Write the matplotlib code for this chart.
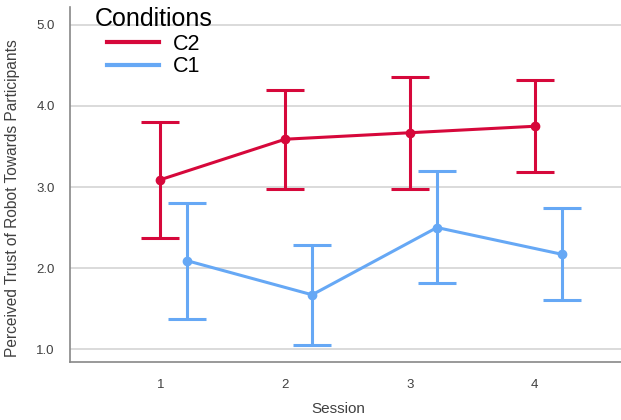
import numpy as np
import matplotlib
matplotlib.use("Agg")
import matplotlib.pyplot as plt
from matplotlib.lines import Line2D

plt.rcParams['font.family'] = ['Liberation Sans', 'DejaVu Sans']

sessions = [1, 2, 3, 4]
c2_mean = [3.09, 3.59, 3.67, 3.75]
c2_upper = [3.80, 4.20, 4.36, 4.32]
c2_lower = [2.37, 2.97, 2.97, 3.19]
c1_mean = [2.09, 1.67, 2.50, 2.17]
c1_upper = [2.80, 2.29, 3.20, 2.74]
c1_lower = [1.37, 1.05, 1.81, 1.60]

red = '#d6083b'
blue = '#66a8f5'

fig = plt.figure(figsize=(6.21, 4.2), dpi=100)
ax = fig.add_axes([0.113, 0.138, 0.887, 0.845])

x = np.array(sessions, dtype=float)
dodge = 0.216

def draw(xs, mean, lower, upper, color, label):
    mean = np.array(mean)
    err = [mean - np.array(lower), np.array(upper) - mean]
    ax.errorbar(xs, mean, yerr=err, color=color, lw=2.2, elinewidth=2.2,
                capsize=14, capthick=2.2, marker='o', markersize=6,
                label=label, zorder=3)

draw(x, c2_mean, c2_lower, c2_upper, red, 'C2')
draw(x + dodge, c1_mean, c1_lower, c1_upper, blue, 'C1')

ax.set_xlim(0.278, 4.69)
ax.set_ylim(0.84, 5.22)
ax.set_xticks(sessions)
ax.set_yticks([1, 2, 3, 4, 5])
ax.set_yticklabels(['1.0', '2.0', '3.0', '4.0', '5.0'])
ax.tick_params(length=0, labelsize=9.5, colors='#404040', pad=11)
ax.tick_params(axis='x', pad=12)
ax.grid(axis='y', color='#d4d4d4', lw=1.2)
ax.set_axisbelow(True)
for s in ['top', 'right']:
    ax.spines[s].set_visible(False)
for s in ['left', 'bottom']:
    ax.spines[s].set_color('#888888')
    ax.spines[s].set_linewidth(1.2)

ax.set_xlabel('Session', fontsize=11, color='#404040')
ax.xaxis.set_label_coords(0.487, -0.113)
ax.set_ylabel('Perceived Trust of Robot Towards Participants', fontsize=11.2,
              color='#404040')
ax.yaxis.set_label_coords(-0.091, 0.463)

# legend: title drawn as text, entries indented under it
fig.text(95 / 621, 1 - 26 / 420, 'Conditions', fontsize=18, color='black',
         ha='left', va='baseline')
h = [Line2D([], [], color=red, lw=3), Line2D([], [], color=blue, lw=3)]
leg = ax.legend(h, ['C2', 'C1'], loc='upper left',
                bbox_to_anchor=(107 / 621, 1 - 34 / 420),
                bbox_transform=fig.transFigure, frameon=False, fontsize=15.5,
                handlelength=2.4, borderpad=0, borderaxespad=0,
                labelspacing=0.05, handletextpad=0.65)

fig.savefig('out.png', dpi=100)
